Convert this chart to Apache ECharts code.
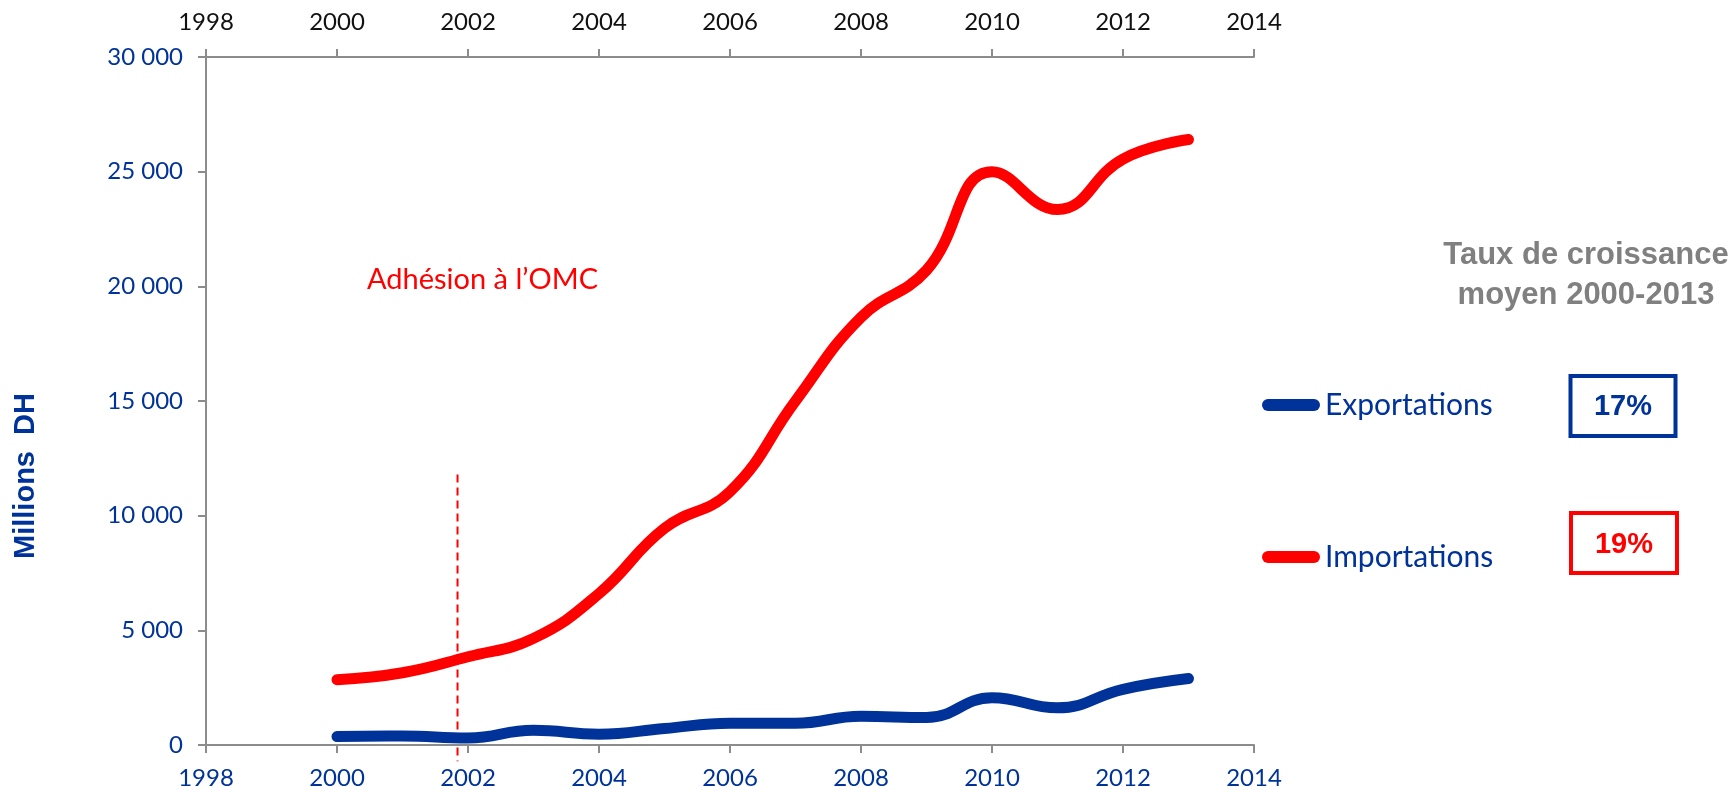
<!DOCTYPE html>
<html>
<head>
<meta charset="utf-8">
<title>Exportations / Importations</title>
<script src="https://cdn.jsdelivr.net/npm/echarts@6/dist/echarts.min.js"></script>
<style>
  html, body { margin: 0; padding: 0; background: #ffffff; }
  #chart { width: 1736px; height: 790px; }
</style>
</head>
<body>
<div id="chart"></div>
<script>
// values (millions DH)
const years = [2000, 2001, 2002, 2003, 2004, 2005, 2006, 2007, 2008, 2009, 2010, 2011, 2012, 2013];
const exportations = [370, 390, 300, 640, 470, 720, 950, 950, 1250, 1200, 2060, 1620, 2430, 2900];
const importations = [2850, 3150, 3850, 4650, 6600, 9450, 11050, 15000, 18650, 20700, 25000, 23350, 25550, 26400];
const growthRates = ["17%", "19%"];
const wtoYear = 2001.84;
const wtoLine = [11800, -710];

const blue = "#003399";
const red = "#ff0000";
const grey = "#8c8c8c";
const lato = "Lato, 'Open Sans', sans-serif";
const arial = "'Liberation Sans', Arial, sans-serif";

const chart = echarts.init(document.getElementById("chart"));

function pairs(values) {
  return years.map((y, i) => [y, values[i]]);
}

function label(text, x, y, font, fill, align) {
  return {
    type: "text",
    x: x,
    y: y,
    style: { text: text, fill: fill, font: font, align: align || "center", verticalAlign: "middle" }
  };
}

const axisLine = { show: true, lineStyle: { color: grey, width: 2 } };
const axisTick = { show: true, length: 8, lineStyle: { color: grey, width: 2 } };

const legendBase = {
  orient: "vertical",
  left: 1257,
  itemWidth: 58,
  itemHeight: 12,
  icon: "path://M6,0 L52,0 A6,6 0 0 1 52,12 L6,12 A6,6 0 0 1 6,0 Z",
  textStyle: { color: blue, fontSize: 30, fontFamily: lato },
  selectedMode: false
};

chart.setOption({
  animation: false,
  grid: { left: 206, right: 482, top: 57, bottom: 44 },
  xAxis: [
    {
      type: "value",
      position: "bottom",
      min: 1998,
      max: 2014,
      interval: 2,
      axisLine: axisLine,
      axisTick: axisTick,
      splitLine: { show: false },
      axisLabel: { color: blue, fontSize: 24, fontFamily: lato, margin: 21, formatter: v => String(v) }
    },
    {
      type: "value",
      position: "top",
      min: 1998,
      max: 2014,
      interval: 2,
      axisLine: axisLine,
      axisTick: axisTick,
      splitLine: { show: false },
      axisLabel: { color: "#111111", fontSize: 24, fontFamily: lato, margin: 23, formatter: v => String(v) }
    }
  ],
  yAxis: {
    type: "value",
    min: 0,
    max: 30000,
    interval: 5000,
    axisLine: axisLine,
    axisTick: axisTick,
    splitLine: { show: false },
    axisLabel: {
      color: blue,
      fontSize: 24,
      fontFamily: lato,
      margin: 23,
      formatter: v => String(v).replace(/\B(?=(\d{3})+(?!\d))/g, " ")
    }
  },
  legend: [
    Object.assign({}, legendBase, { data: ["Exportations"], top: 385 }),
    Object.assign({}, legendBase, { data: ["Importations"], top: 537 })
  ],
  series: [
    {
      name: "Exportations",
      type: "line",
      data: pairs(exportations),
      smooth: 0.45,
      symbol: "none",
      color: blue,
      lineStyle: { color: blue, width: 11, cap: "round", join: "round" }
    },
    {
      name: "Importations",
      type: "line",
      data: pairs(importations),
      smooth: 0.45,
      symbol: "none",
      color: red,
      lineStyle: { color: red, width: 11, cap: "round", join: "round" }
    }
  ]
});

// dashed marker for the WTO accession, placed through the axes' scales
const wtoTop = chart.convertToPixel({ gridIndex: 0 }, [wtoYear, wtoLine[0]]);
const wtoBottom = chart.convertToPixel({ gridIndex: 0 }, [wtoYear, wtoLine[1]]);

const yName = label("Millions  DH", 25.5, 476, "bold 29px " + arial, blue);
yName.rotation = Math.PI / 2;

chart.setOption({
  graphic: [
    yName,
    {
      type: "line",
      silent: true,
      shape: { x1: wtoTop[0], y1: wtoTop[1], x2: wtoBottom[0], y2: wtoBottom[1] },
      style: { stroke: red, lineWidth: 2, lineDash: [8, 5] }
    },
    label("Adhésion à l’OMC", 367, 280, "29px " + lato, red, "left"),
    label("Taux de croissance", 1586, 255, "bold 31px " + arial, "#808080"),
    label("moyen 2000-2013", 1586, 295, "bold 31px " + arial, "#808080"),
    {
      type: "rect",
      shape: { x: 1570.5, y: 376, width: 105, height: 60 },
      style: { fill: "#ffffff", stroke: blue, lineWidth: 4 }
    },
    label(growthRates[0], 1623, 407, "bold 29px " + arial, blue),
    {
      type: "rect",
      shape: { x: 1571, y: 513, width: 106, height: 60 },
      style: { fill: "#ffffff", stroke: red, lineWidth: 4 }
    },
    label(growthRates[1], 1624, 545, "bold 29px " + arial, red)
  ]
});
</script>
</body>
</html>
